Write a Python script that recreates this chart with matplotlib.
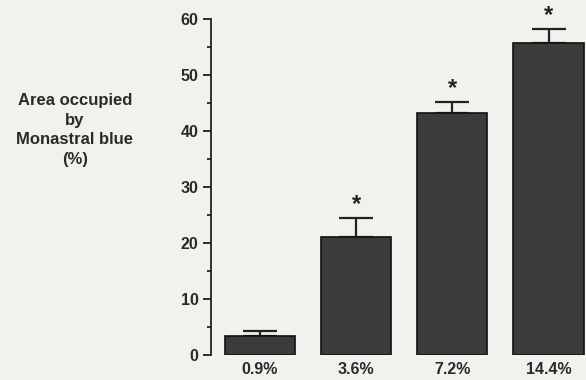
import matplotlib
matplotlib.use("Agg")
import matplotlib.pyplot as plt
from matplotlib.ticker import MultipleLocator

categories = ["0.9%", "3.6%", "7.2%", "14.4%"]
values = [3.4, 21.1, 43.3, 55.8]
errors = [0.8, 3.4, 1.9, 2.4]
significant = [False, True, True, True]

plt.rcParams['font.family'] = ['Liberation Sans', 'DejaVu Sans']
txt = "#2a2a2a"

bg = "#f2f1ee"
fig = plt.figure(figsize=(5.86, 3.8), dpi=100, facecolor=bg)
ax = fig.add_axes([211/586, 25/380, (586-211)/586, 336/380], facecolor=bg)

x = list(range(len(categories)))
ax.bar(x, values, width=0.73, color="#3b3b3b", edgecolor="#111111", linewidth=1.2, zorder=2)
ax.errorbar(x, values, yerr=[[0]*len(values), errors], fmt="none", ecolor="#222222",
            elinewidth=1.6, capsize=12, capthick=1.6, zorder=1)

for xi, v, e, s in zip(x, values, errors, significant):
    if s:
        ax.text(xi, v + e + 0.3, "*", ha="center", va="bottom", fontsize=17,
                fontweight="bold", color="#222222", clip_on=False)

ax.set_xlim(-0.51, 3.39)
ax.set_ylim(0, 60)
ax.set_xticks(x)
ax.set_xticklabels(categories, fontsize=11.5, fontweight="bold", color=txt)
ax.tick_params(axis='x', length=0, pad=5)
ax.yaxis.set_major_locator(MultipleLocator(10))
ax.yaxis.set_minor_locator(MultipleLocator(5))
ax.tick_params(axis='y', which='major', length=6, width=1.3, labelsize=11.5, colors="#222222", pad=3)
ax.tick_params(axis='y', which='minor', length=3, width=1.3, colors="#222222")
for lbl in ax.get_yticklabels():
    lbl.set_fontweight("bold")
    lbl.set_color(txt)
for sp in ["top", "right", "bottom"]:
    ax.spines[sp].set_visible(False)
ax.spines["left"].set_linewidth(1.3)
ax.spines["left"].set_color("#222222")

fig.text(75/586, 1 - 130/380, "Area occupied\nby\nMonastral blue\n(%)", ha="center", va="center",
         fontsize=12, fontweight="bold", color=txt, linespacing=1.38)

fig.savefig("out.png", dpi=100, facecolor=bg)
